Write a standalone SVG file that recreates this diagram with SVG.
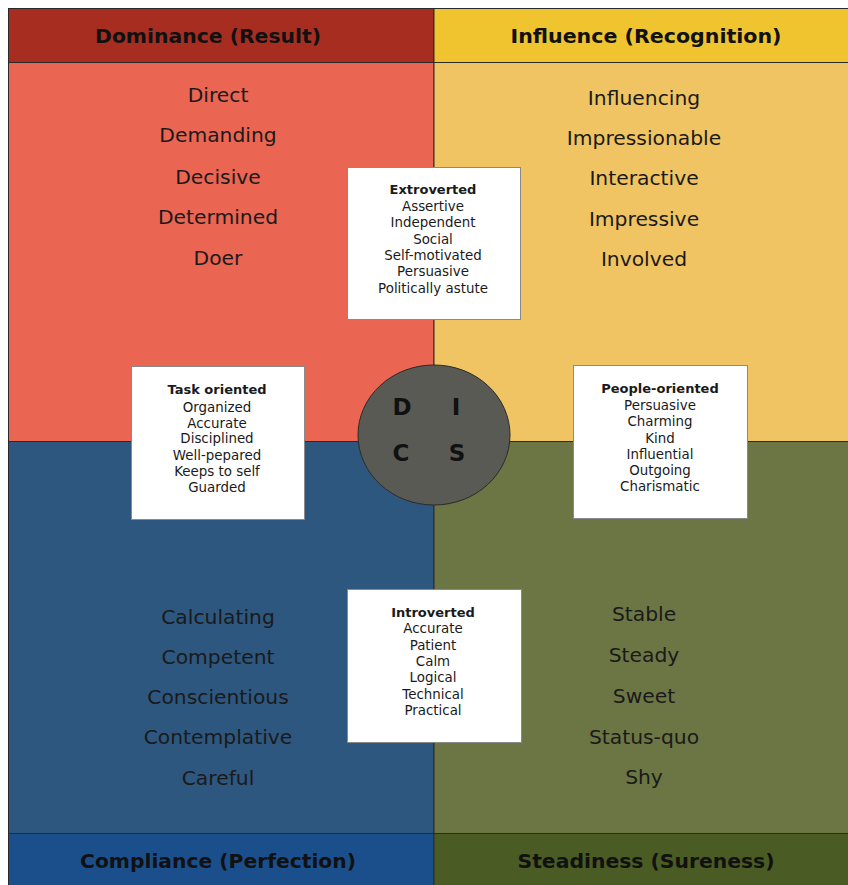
<svg xmlns="http://www.w3.org/2000/svg" width="848" height="885" viewBox="0 0 848 885">
<style>
.q{stroke:#2a2a2a;stroke-width:1}
.h{font-family:"DejaVu Sans",Verdana,sans-serif;font-weight:bold;font-size:19px;fill:#111;text-anchor:middle}
.w{font-family:"DejaVu Sans",Verdana,sans-serif;font-size:20.3px;fill:#1a1a1a;text-anchor:middle}
.b{fill:#fff;stroke:#8a8a8a;stroke-width:1}
.t{font-family:"DejaVu Sans",Verdana,sans-serif;font-size:13.4px;fill:#1a1a1a;text-anchor:middle}
.tb{font-weight:bold;font-size:13px}
.l{font-family:"DejaVu Sans",Verdana,sans-serif;font-weight:bold;font-size:23px;fill:#111;text-anchor:middle}
</style>
<rect width="848" height="885" fill="#fff"/>
<g id="quadrant-D">
<rect class="q" x="8.5" y="8.5" width="425.5" height="54" fill="#a82d21"/>
<text class="h" x="208" y="43" textLength="226" lengthAdjust="spacingAndGlyphs">Dominance (Result)</text>
<rect class="q" x="8.5" y="62.5" width="425.5" height="379" fill="#eb6553"/>
<text class="w" x="218" y="102">Direct</text>
<text class="w" x="218" y="142">Demanding</text>
<text class="w" x="218" y="184">Decisive</text>
<text class="w" x="218" y="224">Determined</text>
<text class="w" x="218" y="265">Doer</text>
</g>
<g id="quadrant-I">
<rect class="q" x="434" y="8.5" width="415" height="54" fill="#f0c42e"/>
<text class="h" x="646" y="43" textLength="271" lengthAdjust="spacingAndGlyphs">Influence (Recognition)</text>
<rect class="q" x="434" y="62.5" width="415" height="379" fill="#f0c462"/>
<text class="w" x="644" y="105">Influencing</text>
<text class="w" x="644" y="145">Impressionable</text>
<text class="w" x="644" y="185">Interactive</text>
<text class="w" x="644" y="226">Impressive</text>
<text class="w" x="644" y="266">Involved</text>
</g>
<g id="quadrant-C">
<rect class="q" x="8.5" y="441.5" width="425.5" height="392" fill="#2d577f"/>
<rect class="q" x="8.5" y="833.5" width="425.5" height="53" fill="#1b4f8b"/>
<text class="h" x="218" y="868" textLength="276" lengthAdjust="spacingAndGlyphs">Compliance (Perfection)</text>
<text class="w" x="218" y="624">Calculating</text>
<text class="w" x="218" y="664">Competent</text>
<text class="w" x="218" y="704">Conscientious</text>
<text class="w" x="218" y="744">Contemplative</text>
<text class="w" x="218" y="785">Careful</text>
</g>
<g id="quadrant-S">
<rect class="q" x="434" y="441.5" width="415" height="392" fill="#6c7544"/>
<rect class="q" x="434" y="833.5" width="415" height="53" fill="#4a5c24"/>
<text class="h" x="646" y="868" textLength="257" lengthAdjust="spacingAndGlyphs">Steadiness (Sureness)</text>
<text class="w" x="644" y="621">Stable</text>
<text class="w" x="644" y="662">Steady</text>
<text class="w" x="644" y="703">Sweet</text>
<text class="w" x="644" y="744">Status-quo</text>
<text class="w" x="644" y="784">Shy</text>
</g>
<g id="connectors"></g>
<g id="box-extroverted">
<rect class="b" x="347.5" y="167.5" width="173" height="152"/>
<text class="t tb" x="433" y="194">Extroverted</text>
<text class="t" x="433" y="211">Assertive</text>
<text class="t" x="433" y="227">Independent</text>
<text class="t" x="433" y="244">Social</text>
<text class="t" x="433" y="260">Self-motivated</text>
<text class="t" x="433" y="276">Persuasive</text>
<text class="t" x="433" y="293">Politically astute</text>
</g>
<g id="box-task">
<rect class="b" x="131.5" y="366.5" width="173" height="153"/>
<text class="t tb" x="217" y="394">Task oriented</text>
<text class="t" x="217" y="412">Organized</text>
<text class="t" x="217" y="428">Accurate</text>
<text class="t" x="217" y="443">Disciplined</text>
<text class="t" x="217" y="460">Well-pepared</text>
<text class="t" x="217" y="476">Keeps to self</text>
<text class="t" x="217" y="492">Guarded</text>
</g>
<g id="box-people">
<rect class="b" x="573.5" y="365.5" width="174" height="153"/>
<text class="t tb" x="660" y="393">People-oriented</text>
<text class="t" x="660" y="410">Persuasive</text>
<text class="t" x="660" y="426">Charming</text>
<text class="t" x="660" y="443">Kind</text>
<text class="t" x="660" y="459">Influential</text>
<text class="t" x="660" y="475">Outgoing</text>
<text class="t" x="660" y="491">Charismatic</text>
</g>
<g id="box-introverted">
<rect class="b" x="347.5" y="589.5" width="174" height="153"/>
<text class="t tb" x="433" y="617">Introverted</text>
<text class="t" x="433" y="633">Accurate</text>
<text class="t" x="433" y="650">Patient</text>
<text class="t" x="433" y="666">Calm</text>
<text class="t" x="433" y="682">Logical</text>
<text class="t" x="433" y="699">Technical</text>
<text class="t" x="433" y="715">Practical</text>
</g>
<g id="disc-circle">
<ellipse cx="434" cy="435" rx="76" ry="70" fill="#5a5a55" stroke="#2a2a2a" stroke-width="1"/>
<text class="l" x="402" y="415">D</text>
<text class="l" x="456" y="415">I</text>
<text class="l" x="401" y="461">C</text>
<text class="l" x="457" y="461">S</text>
</g>
</svg>
